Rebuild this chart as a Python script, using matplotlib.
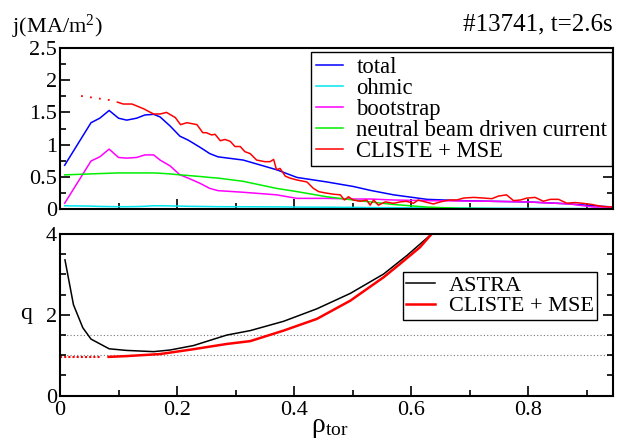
import matplotlib
matplotlib.use("Agg")
import matplotlib.pyplot as plt
from matplotlib.ticker import MultipleLocator, FuncFormatter

plt.rcParams['font.family'] = ['Liberation Serif', 'DejaVu Serif']
plt.rcParams['mathtext.fontset'] = 'custom'
plt.rcParams['mathtext.rm'] = 'Liberation Serif'
plt.rcParams['mathtext.it'] = 'Liberation Serif:italic'

# ---- top panel: current density (MA/m^2) ----
rho_astra = [0.008, 0.053, 0.068, 0.084, 0.1, 0.114, 0.131, 0.145, 0.16, 0.171, 0.188, 0.205,
             0.219, 0.239, 0.256, 0.27, 0.313, 0.37, 0.405, 0.456, 0.501, 0.53, 0.57, 0.627,
             0.684, 0.735, 0.798, 0.869, 0.912, 0.946]
j_total = [0.68, 1.34, 1.41, 1.53, 1.41, 1.38, 1.41, 1.46, 1.47, 1.43, 1.29, 1.13,
           1.07, 0.96, 0.86, 0.81, 0.76, 0.61, 0.49, 0.42, 0.35, 0.29, 0.22, 0.15,
           0.13, 0.12, 0.11, 0.08, 0.05, 0.03]
j_ohmic = [0.05, 0.045, 0.04, 0.038, 0.036, 0.036, 0.038, 0.042, 0.05, 0.05, 0.048, 0.045,
           0.042, 0.04, 0.038, 0.036, 0.035, 0.033, 0.03, 0.028, 0.025, 0.022, 0.02, 0.018,
           0.015, 0.013, 0.01, 0.008, 0.006, 0.005]
j_boot = [0.09, 0.745, 0.81, 0.93, 0.80, 0.79, 0.80, 0.84, 0.84, 0.76, 0.67, 0.53,
          0.48, 0.40, 0.32, 0.285, 0.26, 0.22, 0.165, 0.165, 0.155, 0.155, 0.14, 0.13,
          0.125, 0.12, 0.11, 0.08, 0.03, 0.03]
j_nbcd = [0.53, 0.545, 0.55, 0.555, 0.56, 0.56, 0.56, 0.56, 0.56, 0.555, 0.545, 0.53,
          0.52, 0.505, 0.49, 0.48, 0.43, 0.32, 0.27, 0.19, 0.14, 0.11, 0.07, 0.03,
          0.01, 0.005, 0.0, 0.0, 0.0, 0.0]

rho_cl_j = [0.098, 0.108, 0.123, 0.142, 0.16, 0.171, 0.182, 0.197, 0.206, 0.217, 0.234, 0.244,
            0.25, 0.259, 0.265, 0.274, 0.282, 0.291, 0.299, 0.308, 0.316, 0.325, 0.336, 0.35,
            0.359, 0.365, 0.37, 0.376, 0.385, 0.393, 0.405, 0.422, 0.433, 0.442, 0.453, 0.467,
            0.479, 0.486, 0.493, 0.501, 0.513, 0.524, 0.53, 0.536, 0.544, 0.556, 0.57, 0.581,
            0.592, 0.604, 0.612, 0.624, 0.638, 0.65, 0.664, 0.678, 0.69, 0.707, 0.724, 0.738,
            0.749, 0.763, 0.775, 0.787, 0.798, 0.812, 0.826, 0.838, 0.852, 0.866, 0.88, 0.892,
            0.909, 0.926, 0.946]
j_cl = [1.66, 1.63, 1.63, 1.56, 1.475, 1.475, 1.50, 1.42, 1.31, 1.34, 1.31, 1.185,
        1.185, 1.15, 1.16, 1.06, 1.08, 1.05, 0.97, 0.97, 0.89, 0.86, 0.76, 0.735,
        0.735, 0.77, 0.61, 0.63, 0.51, 0.48, 0.45, 0.42, 0.32, 0.27, 0.25, 0.23,
        0.22, 0.14, 0.19, 0.14, 0.12, 0.14, 0.06, 0.14, 0.06, 0.11, 0.088, 0.11,
        0.12, 0.088, 0.14, 0.11, 0.078, 0.11, 0.14, 0.14, 0.17, 0.18, 0.17, 0.16,
        0.20, 0.22, 0.13, 0.14, 0.17, 0.18, 0.12, 0.15, 0.15, 0.09, 0.10, 0.09,
        0.07, 0.04, 0.03]
rho_cl_j_extrap = [0.036, 0.094]
j_cl_extrap = [1.755, 1.68]

# ---- bottom panel: safety factor q ----
rho_q_astra = [0.0085, 0.023, 0.039, 0.053, 0.084, 0.114, 0.16, 0.188, 0.228, 0.285, 0.325,
               0.382, 0.439, 0.496, 0.553, 0.593, 0.635]
q_astra = [3.36, 2.25, 1.68, 1.40, 1.16, 1.12, 1.09, 1.13, 1.24, 1.50, 1.61,
           1.84, 2.15, 2.53, 3.01, 3.47, 4.0]
rho_q_cl = [0.083, 0.114, 0.171, 0.228, 0.285, 0.325, 0.382, 0.439, 0.496, 0.553, 0.581,
            0.615, 0.635]
q_cl = [0.96, 0.98, 1.03, 1.15, 1.28, 1.35, 1.61, 1.90, 2.35, 2.93, 3.26, 3.67, 4.0]
rho_q_cl_extrap = [0.0, 0.068]
q_cl_extrap = [0.95, 0.95]
q_rational = [1.0, 1.5]

labels_j = ['total', 'ohmic', 'bootstrap', 'neutral beam driven current', 'CLISTE + MSE']
labels_q = ['ASTRA', 'CLISTE + MSE']

W, H = 617, 446
fig = plt.figure(figsize=(W / 100, H / 100), dpi=100)
L, R = 60 / W, 613 / W
ax1 = fig.add_axes([L, 1 - 209 / H, R - L, (209 - 48) / H])
ax2 = fig.add_axes([L, 1 - 395.7 / H, R - L, (395.7 - 234) / H])

lw = 1.1
ax1.plot(rho_astra, j_total, color='#0000ff', lw=lw, label=labels_j[0])
ax1.plot(rho_astra, j_ohmic, color='#00e5ee', lw=lw, label=labels_j[1])
ax1.plot(rho_astra, j_boot, color='#ff00ff', lw=lw, label=labels_j[2])
ax1.plot(rho_astra, j_nbcd, color='#00ee00', lw=lw, label=labels_j[3])
ax1.plot(rho_cl_j, j_cl, color='#ff0000', lw=lw, label=labels_j[4])
ax1.plot(rho_cl_j_extrap, j_cl_extrap, color='#ff0000', lw=1.3, ls=(0, (1, 4)))

for q in q_rational:
    ax2.axhline(q, color='#777777', lw=0.8, ls=(0, (1, 2)), zorder=1)
ax2.plot(rho_q_astra, q_astra, color='black', lw=lw, label=labels_q[0])
ax2.plot(rho_q_cl, q_cl, color='#ff0000', lw=1.8, label=labels_q[1])
ax2.plot(rho_q_cl_extrap, q_cl_extrap, color='#ff0000', lw=1.5, ls=(0, (1, 1)))

fmt = FuncFormatter(lambda v, p: '%g' % v)
for ax in (ax1, ax2):
    ax.set_xlim(0, 0.945)
    ax.xaxis.set_major_locator(MultipleLocator(0.2))
    ax.xaxis.set_minor_locator(MultipleLocator(0.1))
    ax.tick_params(which='both', direction='in', left=True, right=True, top=False, bottom=True,
                   labelsize=16, width=1.2)
    ax.tick_params(which='major', length=7)
    ax.tick_params(which='minor', length=4)
    ax.xaxis.set_major_formatter(fmt)
    ax.yaxis.set_major_formatter(fmt)
    for s in ax.spines.values():
        s.set_linewidth(1.5)

ax1.set_ylim(0, 2.5)
ax1.yaxis.set_major_locator(MultipleLocator(0.5))
ax1.yaxis.set_minor_locator(MultipleLocator(0.25))
ax1.tick_params(labelbottom=False, pad=2)

ax2.set_ylim(0, 4)
ax2.yaxis.set_major_locator(MultipleLocator(2))
ax2.yaxis.set_minor_locator(MultipleLocator(0.5))
ax2.tick_params(axis='y', pad=2)
ax2.tick_params(axis='x', pad=4)

leg1 = ax1.legend(loc='upper right', bbox_to_anchor=(0.998, 0.975), fontsize=16.3,
                  frameon=True, fancybox=False, framealpha=1, edgecolor='black',
                  handlelength=1.2, handletextpad=0.6, labelspacing=0.0,
                  borderpad=0.2, borderaxespad=0)
leg1.get_frame().set_linewidth(1.0)
leg2 = ax2.legend(loc='upper right', bbox_to_anchor=(0.971, 0.765), fontsize=16,
                  frameon=True, fancybox=False, framealpha=1, edgecolor='black',
                  handlelength=1.3, handletextpad=0.6, labelspacing=0.0,
                  borderpad=0.15, borderaxespad=0)
leg2.get_frame().set_linewidth(1.0)

fig.text(12 / W, 1 - 33 / H, 'j(MA/m$^{2}$)', fontsize=16, ha='left', va='baseline')
fig.text(613 / W, 1 - 30 / H, '#13741, t=2.6s', fontsize=18, ha='right', va='baseline')
fig.text(20 / W, 1 - 314 / H, 'q', fontsize=17, ha='left', va='center')
fig.text(330 / W, 1 - 432 / H, 'ρ$_{\\mathrm{tor}}$', fontsize=20, ha='center', va='baseline')

fig.savefig('out.png', dpi=100)
